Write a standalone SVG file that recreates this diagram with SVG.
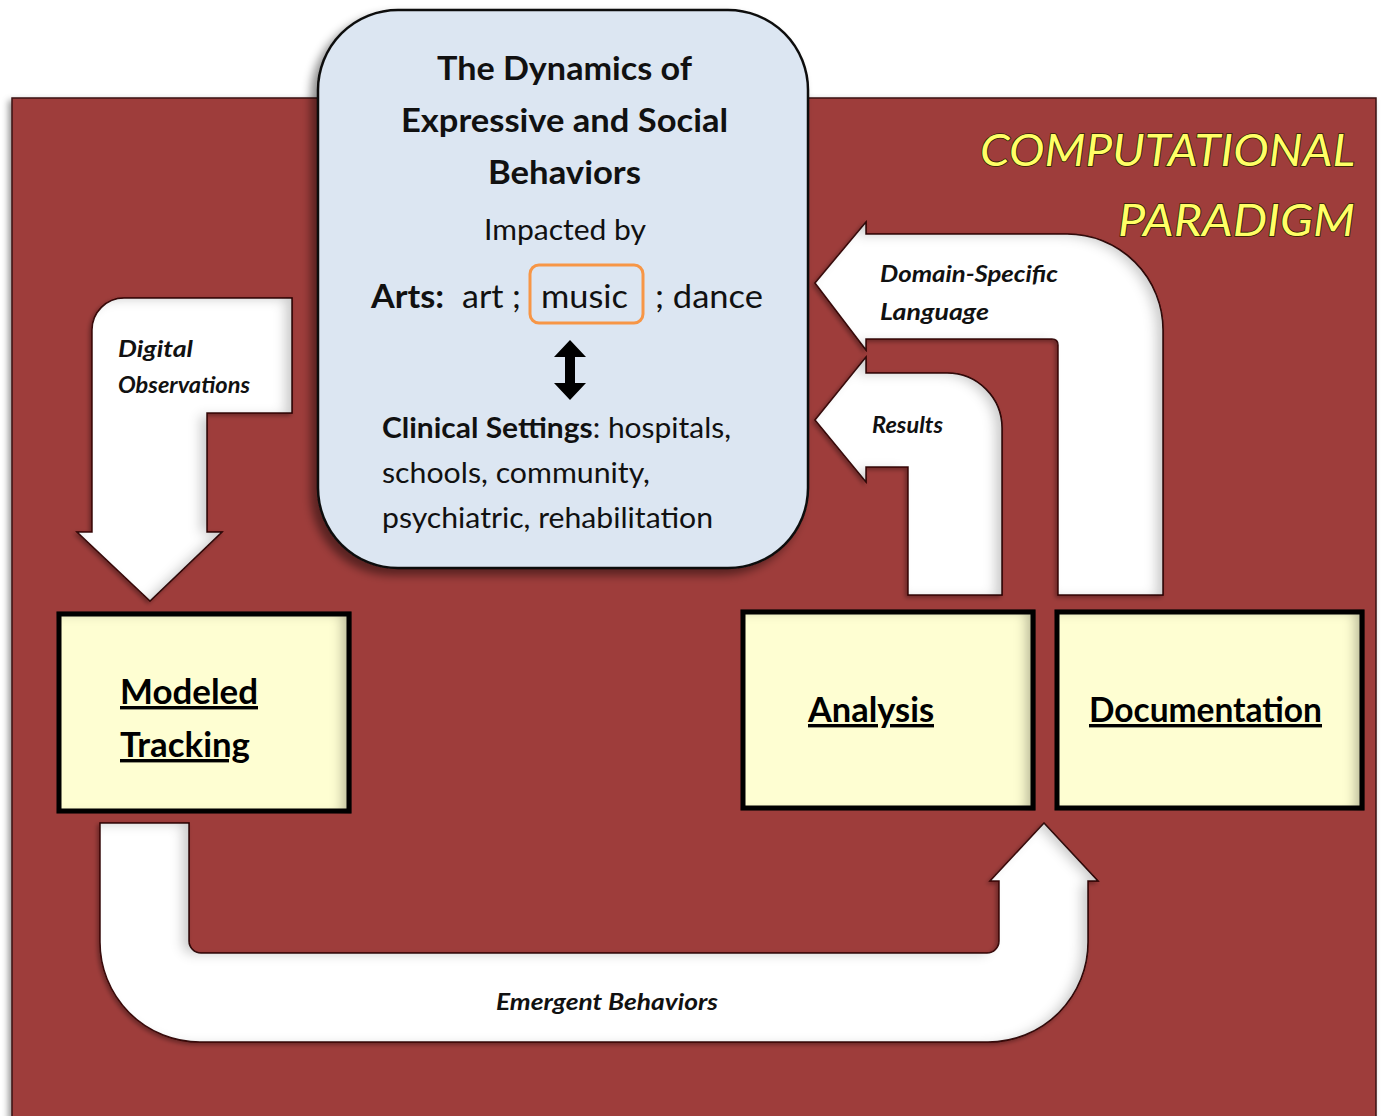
<svg xmlns="http://www.w3.org/2000/svg" width="1382" height="1116" viewBox="0 0 1382 1116">
<defs>
<style>
.lbl{font-family:Lato,"Open Sans",sans-serif;font-weight:bold;font-style:italic;font-size:22px;fill:#111}
.box{fill:#FEFED2;stroke:#000;stroke-width:5}
.boxt{font-family:Lato,"Open Sans",sans-serif;font-weight:bold;font-size:34px;fill:#000;text-decoration:underline}
.arr{fill:#fff;stroke:#3a1212;stroke-width:1.5}
.c{font-family:Lato,"Open Sans",sans-serif;fill:#111}
.title{font-family:Lato,"Open Sans",sans-serif;font-style:italic;font-size:45px;fill:#FFFF66;stroke:#2b2200;stroke-width:1.6;paint-order:stroke}
</style>
<filter id="sh" x="-20%" y="-20%" width="140%" height="140%">
<feDropShadow dx="-6" dy="6" stdDeviation="5" flood-color="#000" flood-opacity="0.45"/>
</filter>
<filter id="sh2" x="-20%" y="-20%" width="140%" height="140%">
<feDropShadow dx="-3" dy="3" stdDeviation="3" flood-color="#000" flood-opacity="0.4"/>
</filter>
<filter id="arrf" x="-10%" y="-10%" width="120%" height="120%">
<feGaussianBlur in="SourceAlpha" stdDeviation="6" result="b"/>
<feOffset in="b" dx="-8" dy="2" result="o"/>
<feComposite in="SourceAlpha" in2="o" operator="out" result="ring"/>
<feFlood flood-color="#000" flood-opacity="0.4"/>
<feComposite in2="ring" operator="in" result="s"/>
<feOffset in="SourceAlpha" dx="-2" dy="2" result="d0"/>
<feGaussianBlur in="d0" stdDeviation="2" result="d1"/>
<feFlood flood-color="#000" flood-opacity="0.35"/>
<feComposite in2="d1" operator="in" result="drop"/>
<feMerge><feMergeNode in="drop"/><feMergeNode in="SourceGraphic"/><feMergeNode in="s"/></feMerge>
</filter>
<filter id="inner" x="-5%" y="-5%" width="110%" height="110%">
<feGaussianBlur in="SourceAlpha" stdDeviation="6" result="b"/>
<feOffset in="b" dx="-10" dy="2" result="o"/>
<feComposite in="SourceAlpha" in2="o" operator="out" result="ring"/>
<feFlood flood-color="#000" flood-opacity="0.5"/>
<feComposite in2="ring" operator="in" result="s"/>
<feMerge><feMergeNode in="SourceGraphic"/><feMergeNode in="s"/></feMerge>
</filter>
</defs>

<g id="background">
<rect x="12" y="98" width="1364" height="1040" fill="#9E3C3A" stroke="#3a1515" stroke-width="1.5" filter="url(#sh2)"/>
</g>

<g id="title">
<text class="title" x="1355" y="166" text-anchor="end" textLength="375" lengthAdjust="spacingAndGlyphs">COMPUTATIONAL</text>
<text class="title" x="1355" y="236" text-anchor="end" textLength="237" lengthAdjust="spacingAndGlyphs">PARADIGM</text>
</g>

<g id="connectors">
<g id="digital-observations">
<path class="arr" filter="url(#arrf)" d="M92,330 A32,32 0 0 1 124,298 L292,298 L292,413 L207,413 L207,532 L222,532 L150,601 L77,532 L92,532 Z"/>
<text class="lbl" x="118" y="357" textLength="75" lengthAdjust="spacingAndGlyphs">Digital</text>
<text class="lbl" x="118" y="393" textLength="132" lengthAdjust="spacingAndGlyphs">Observations</text>
</g>
<g id="domain-specific">
<path class="arr" filter="url(#arrf)" d="M815,283 L866,222 L866,234 L1067,234 A96,96 0 0 1 1163,330 L1163,595 L1058,595 L1058,345 Q1058,339 1052,339 L866,339 L866,350 Z"/>
<text class="lbl" x="880" y="282" textLength="178" lengthAdjust="spacingAndGlyphs">Domain-Specific</text>
<text class="lbl" x="880" y="320" textLength="109" lengthAdjust="spacingAndGlyphs">Language</text>
</g>
<g id="results">
<path class="arr" filter="url(#arrf)" d="M815,420 L866,357 L866,373 L947,373 A55,55 0 0 1 1002,428 L1002,595 L908,595 L908,467 L866,467 L866,482 Z"/>
<text class="lbl" x="872" y="433" textLength="71" lengthAdjust="spacingAndGlyphs">Results</text>
</g>
<g id="emergent">
<path class="arr" filter="url(#arrf)" d="M100,823 L189,823 L189,941 A12,12 0 0 0 201,953 L987,953 A12,12 0 0 0 999,941 L999,881 L990,881 L1044,823 L1098,881 L1088,881 L1088,942 A100,100 0 0 1 988,1042 L200,1042 A100,100 0 0 1 100,942 Z"/>
<text class="lbl" x="496" y="1010" textLength="222" lengthAdjust="spacingAndGlyphs">Emergent Behaviors</text>
</g>
</g>

<g id="modeled-tracking">
<rect class="box" x="59" y="614" width="290" height="197" filter="url(#inner)"/>
<text class="boxt" x="120" y="704" textLength="138" lengthAdjust="spacingAndGlyphs">Modeled</text>
<text class="boxt" x="120" y="757" textLength="130" lengthAdjust="spacingAndGlyphs">Tracking</text>
</g>
<g id="analysis">
<rect class="box" x="743" y="612" width="290" height="196" filter="url(#inner)"/>
<text class="boxt" x="808" y="722" textLength="126" lengthAdjust="spacingAndGlyphs">Analysis</text>
</g>
<g id="documentation">
<rect class="box" x="1057" y="612" width="305" height="196" filter="url(#inner)"/>
<text class="boxt" x="1089" y="722" textLength="233" lengthAdjust="spacingAndGlyphs">Documentation</text>
</g>

<g id="central">
<rect x="318" y="10" width="490" height="558" rx="80" ry="80" fill="#DCE6F2" stroke="#111" stroke-width="2.5" filter="url(#sh)"/>
<text class="c" x="437" y="80" font-size="33" font-weight="bold" textLength="255" lengthAdjust="spacingAndGlyphs">The Dynamics of</text>
<text class="c" x="401" y="132" font-size="33" font-weight="bold" textLength="327" lengthAdjust="spacingAndGlyphs">Expressive and Social</text>
<text class="c" x="488" y="184" font-size="33" font-weight="bold" textLength="153" lengthAdjust="spacingAndGlyphs">Behaviors</text>
<text class="c" x="484" y="240" font-size="28" textLength="162" lengthAdjust="spacingAndGlyphs">Impacted by</text>
<text class="c" x="371" y="308" font-size="33" font-weight="bold" textLength="73" lengthAdjust="spacingAndGlyphs">Arts:</text>
<text class="c" x="462" y="308" font-size="33" textLength="59" lengthAdjust="spacingAndGlyphs">art ;</text>
<text class="c" x="541" y="308" font-size="33" textLength="87" lengthAdjust="spacingAndGlyphs">music</text>
<text class="c" x="655" y="308" font-size="33" textLength="108" lengthAdjust="spacingAndGlyphs">; dance</text>
<rect x="530" y="265" width="113" height="58" rx="9" fill="none" stroke="#F79646" stroke-width="3"/>
<polygon points="570,340 586,357 575,357 575,383 586,383 570,400 554,383 565,383 565,357 554,357" fill="#000"/>
<text class="c" x="382" y="438" font-size="28" textLength="349" lengthAdjust="spacingAndGlyphs"><tspan font-weight="bold">Clinical Settings</tspan>: hospitals,</text>
<text class="c" x="382" y="483" font-size="28" textLength="268" lengthAdjust="spacingAndGlyphs">schools, community,</text>
<text class="c" x="382" y="528" font-size="28" textLength="331" lengthAdjust="spacingAndGlyphs">psychiatric, rehabilitation</text>
</g>
</svg>
